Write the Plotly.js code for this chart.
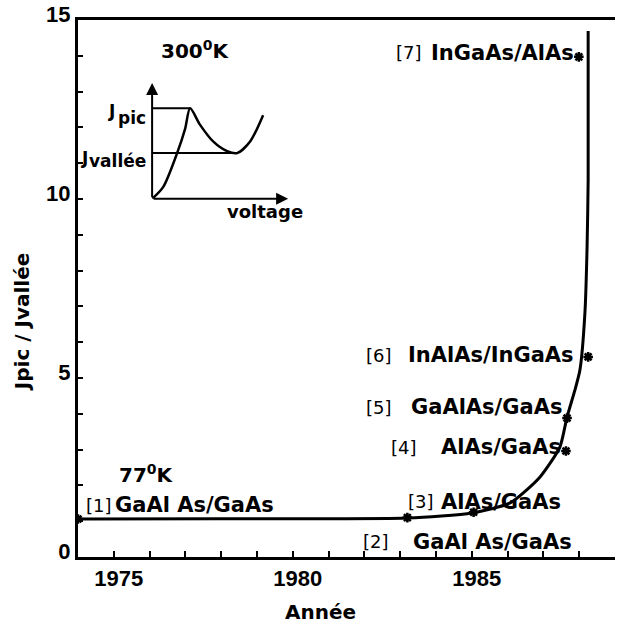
<!DOCTYPE html>
<html><head><meta charset="utf-8">
<script src="https://cdn.plot.ly/plotly-3.0.1.min.js"></script>
<style>html,body{margin:0;padding:0;background:#fff}#chart{width:617px;height:626px}</style>
</head><body><div id="chart"></div>
<script>
// Trend curve (year, Jpic/Jvallée)
const curveYear = [1974, 1978, 1983.2, 1985.0, 1986.07, 1986.9, 1987.46, 1987.66, 1987.88, 1988.02, 1988.16, 1988.22, 1988.25, 1988.25];
const curveRatio = [1.06, 1.07, 1.09, 1.23, 1.51, 2.23, 3.07, 3.91, 4.66, 5.22, 6.82, 8.66, 10.53, 14.69];
// Measured points
const pointYear = [1974, 1983.2, 1985.05, 1987.63, 1987.66, 1988.25, 1987.99];
const pointRatio = [1.06, 1.1, 1.25, 2.96, 3.88, 5.59, 13.97];
// Point labels: reference number and material system
const refNumbers = ["[1]", "[2]", "[3]", "[4]", "[5]", "[6]", "[7]"];
const materials = ["GaAl As/GaAs", "GaAl As/GaAs", "AlAs/GaAs", "AlAs/GaAs", "GaAlAs/GaAs", "InAlAs/InGaAs", "InGaAs/AlAs"];
const refNumYear = [1974.2, 1981.93, 1983.19, 1982.72, 1982.02, 1982.02, 1982.85];
const materialEndYear = [1979.5, 1987.83, 1987.52, 1987.52, 1987.55, 1987.88, 1987.88];
const labelRatio = [1.45, 0.42, 1.54, 3.07, 4.19, 5.64, 14.08];
// Inset I-V sketch (relative units)
const ivV = [0, 11, 25, 33, 38, 48, 61, 75, 85, 98, 111];
const ivJ = [0, 12, 47, 72, 93, 76, 59, 49, 47, 59, 86];
const jPic = 93, jValley = 47, vPeak = 38, vValley = 85;
const insetVMax = 136, insetJMax = 119;
const xTickVals = [1975, 1980, 1985];
const yTickVals = [0, 5, 10, 15];

const F = "Liberation Sans, Arial, sans-serif";
const D = "DejaVu Sans, sans-serif";
const inset = {xaxis: 'x2', yaxis: 'y2', hoverinfo: 'skip'};
const traces = [
  {x: curveYear, y: curveRatio, mode: 'lines', line: {color: '#000', width: 3, shape: 'spline', smoothing: 0.6}, hoverinfo: 'skip'},
  {x: pointYear, y: pointRatio, mode: 'markers', marker: {symbol: 'asterisk-open', size: 8, color: '#000', line: {color: '#000', width: 2.5}}},
  Object.assign({x: ivV, y: ivJ, mode: 'lines', line: {color: '#000', width: 2.5, shape: 'spline', smoothing: 0.8}}, inset),
  Object.assign({x: [0, vPeak], y: [jPic, jPic], mode: 'lines', line: {color: '#000', width: 2}}, inset),
  Object.assign({x: [0, vValley], y: [jValley, jValley], mode: 'lines', line: {color: '#000', width: 2}}, inset)
];

const ann = [];
refNumbers.forEach((t, i) => {
  ann.push({x: refNumYear[i], y: labelRatio[i], xref: 'x', yref: 'y', text: t, showarrow: false,
    xanchor: 'left', yanchor: 'middle', borderpad: 0, font: {family: D, size: 18, color: '#000'}});
  ann.push({x: materialEndYear[i], y: labelRatio[i], xref: 'x', yref: 'y', text: '<b>' + materials[i] + '</b>', showarrow: false,
    xanchor: 'right', yanchor: 'middle', borderpad: 0, font: {family: D, size: 21, color: '#000'}});
});
const txt = (x, y, text, size, xa, extra) => Object.assign({x: x, y: y, xref: 'paper', yref: 'paper', text: text, showarrow: false,
  xanchor: xa, yanchor: 'middle', borderpad: 0, font: {family: D, size: size, color: '#000'}}, extra || {});
ann.push({x: 1975.12, y: 2.32, xref: 'x', yref: 'y', text: '<b>77<sup>0</sup>K</b>', showarrow: false, xanchor: 'left', yanchor: 'middle', borderpad: 0, font: {family: D, size: 20, color: '#000'}});
ann.push(txt(0.2197, 0.945, '<b>300<sup>0</sup>K</b>', 20, 'center'));
// inset axes arrows
const arrow = (x, y) => ({x: x, y: y, ax: 0, ay: 0, xref: 'x2', yref: 'y2', axref: 'x2', ayref: 'y2', showarrow: true,
  arrowhead: 2, arrowsize: 1.2, arrowwidth: 2, arrowcolor: '#000', text: ''});
ann.push(arrow(0, insetJMax));
ann.push(arrow(insetVMax, 0));
// inset labels
ann.push(txt(0.0708, 0.8300, '<b>J</b>', 17, 'right'));
ann.push(txt(0.1285, 0.8170, '<b>pic</b>', 17, 'right'));
ann.push(txt(0.0205, 0.7430, '<b>J</b>', 17, 'right'));
ann.push(txt(0.1285, 0.7374, '<b>vallée</b>', 17, 'right'));
ann.push(txt(0.3482, 0.6425, '<b>voltage</b>', 18, 'center'));
// axis titles
ann.push(txt(-0.104, 0.4376, '<b>Jpic / Jvallée</b>', 20, 'center', {textangle: -90}));
ann.push(txt(0.4507, -0.1024, '<b>Année</b>', 20, 'center'));

const layout = {
  width: 617, height: 626,
  margin: {l: 78, r: 2, t: 20, b: 69},
  paper_bgcolor: '#fff', plot_bgcolor: '#fff',
  showlegend: false,
  font: {family: F, color: '#000'},
  xaxis: {range: [1974, 1989], showgrid: false, zeroline: false, showline: true, linecolor: '#000', linewidth: 3, mirror: true,
    tickvals: xTickVals, ticks: 'inside', ticklen: 6, tickwidth: 2, tickcolor: '#000', ticklabelshift: 5,
    minor: {dtick: 1, tick0: 1974, ticks: 'inside', ticklen: 6, tickwidth: 2, tickcolor: '#000'},
    tickfont: {family: F, size: 22, color: '#000', weight: 'bold'}},
  yaxis: {range: [0, 15], showgrid: false, zeroline: false, showline: true, linecolor: '#000', linewidth: 3, mirror: false,
    tickvals: yTickVals, ticks: 'inside', ticklen: 5, tickwidth: 2, tickcolor: '#000', ticklabelshift: -6,
    minor: {dtick: 1, tick0: 0, ticks: 'inside', ticklen: 5, tickwidth: 2, tickcolor: '#000'},
    tickfont: {family: F, size: 22, color: '#000', weight: 'bold'}},
  xaxis2: {domain: [0.138, 0.395], anchor: 'y2', range: [0, 138], visible: false},
  yaxis2: {domain: [0.667, 0.888], anchor: 'x2', range: [0, 122], visible: false},
  annotations: ann
};
Plotly.newPlot('chart', traces, layout, {displayModeBar: false, staticPlot: true});
</script></body></html>
